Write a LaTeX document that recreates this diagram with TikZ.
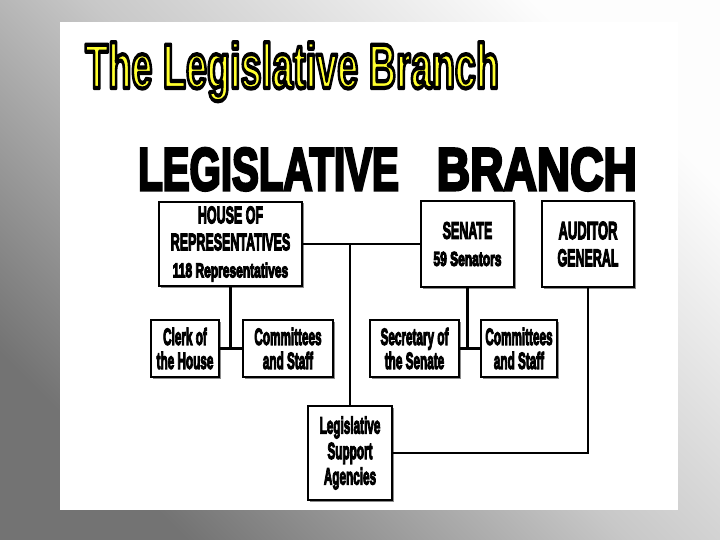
\documentclass[tikz,border=0pt]{standalone}
\usepackage{fontspec}
\setmainfont{Liberation Sans}
\usetikzlibrary{shadows}
\definecolor{bgdark}{HTML}{737373}
\definecolor{bgmid}{HTML}{C8C8C8}
\definecolor{bglight}{HTML}{FDFDFD}
\definecolor{ttlyellow}{HTML}{FFFF2E}
\newcommand\sq[2][0.5]{\scalebox{#1}[1]{#2}}
\newcommand\fat[2]{\special{pdf:code q 2 Tr #1 w}#2\special{pdf:code Q}}
\newcommand\bx[2][0.5]{\sq[#1]{\fat{1.3}{#2}}}
\tikzset{
  box/.style={draw, line width=2.6pt, fill=white, inner sep=0pt, align=center,
    font=\bfseries\fontsize{23.5}{24}\selectfont,
    drop shadow={shadow xshift=1.5pt, shadow yshift=-1.5pt, fill=black!45, opacity=1}},
  bigbox/.style={box, font=\bfseries\fontsize{24}{27}\selectfont},
  conn/.style={line width=2.6pt},
}
\begin{document}
\begin{tikzpicture}[x=1pt,y=-1pt]
\useasboundingbox (0,0) rectangle (720,540);
\shade[left color=bgdark, right color=bglight, middle color=bgmid, shading angle=135] (0,0) rectangle (720,540);
\fill[white] (60,22) rectangle (678,510);

\node[anchor=base west, inner sep=0pt] (title) at (85,88)
  {\fontsize{63}{63}\selectfont\bfseries\color{ttlyellow}\sq[0.6]{\special{pdf:code q 2 Tr 4.2 w 0 0 0 RG 1 j}The Legislative Branch\special{pdf:code Q}}};
\node[anchor=base west, inner sep=0pt] (heading) at (138,190)
  {\fontsize{60}{60}\selectfont\bfseries\sq[0.67]{\fat{3}{LEGISLATIVE}}\hspace{38pt}\sq[0.77]{\fat{3}{BRANCH}}};

\node[bigbox, minimum width=143pt, minimum height=84pt] (house) at (230.5,244)
  {\bx[0.52]{HOUSE OF}\\\bx[0.52]{REPRESENTATIVES}\\{\fontsize{20}{20}\selectfont\bx[0.6]{118 Representatives}}};
\node[bigbox, minimum width=93pt, minimum height=86pt] (senate) at (467.5,244)
  {\bx[0.52]{SENATE}\\{\fontsize{20}{20}\selectfont\bx[0.6]{59 Senators}}};
\node[bigbox, minimum width=92pt, minimum height=86pt] (auditor) at (588,244)
  {\fontsize{25}{26}\selectfont\bx[0.52]{AUDITOR}\\\bx[0.52]{GENERAL}};
\node[box, minimum width=68pt, minimum height=57pt] (clerk) at (185,348.5)
  {\bx{Clerk of}\\\bx{the House}};
\node[box, minimum width=90pt, minimum height=57pt] (comm1) at (288,348.5)
  {\bx{Committees}\\\bx{and Staff}};
\node[box, minimum width=89pt, minimum height=57pt] (secr) at (414.5,348.5)
  {\bx{Secretary of}\\\bx{the Senate}};
\node[box, minimum width=76pt, minimum height=57pt] (comm2) at (519,348.5)
  {\bx{Committees}\\\bx{and Staff}};
\node[box, minimum width=84pt, minimum height=94pt, font=\bfseries\fontsize{23.5}{25.5}\selectfont] (lsa) at (350,453)
  {\bx{Legislative}\\\bx{Support}\\\bx{Agencies}};

\coordinate (j1) at (350,244);
\coordinate (j2) at (230.5,348.5);
\coordinate (j3) at (467.5,348.5);

\draw[conn] (house.east) -- (senate.west);
\draw[conn] (j1) -- (lsa.north);
\draw[conn] (house.south) -- (j2);
\draw[conn] (clerk.east) -- (comm1.west);
\draw[conn] (senate.south) -- (j3);
\draw[conn] (secr.east) -- (comm2.west);
\draw[conn] (auditor.south) |- (lsa.east);
\end{tikzpicture}
\end{document}
